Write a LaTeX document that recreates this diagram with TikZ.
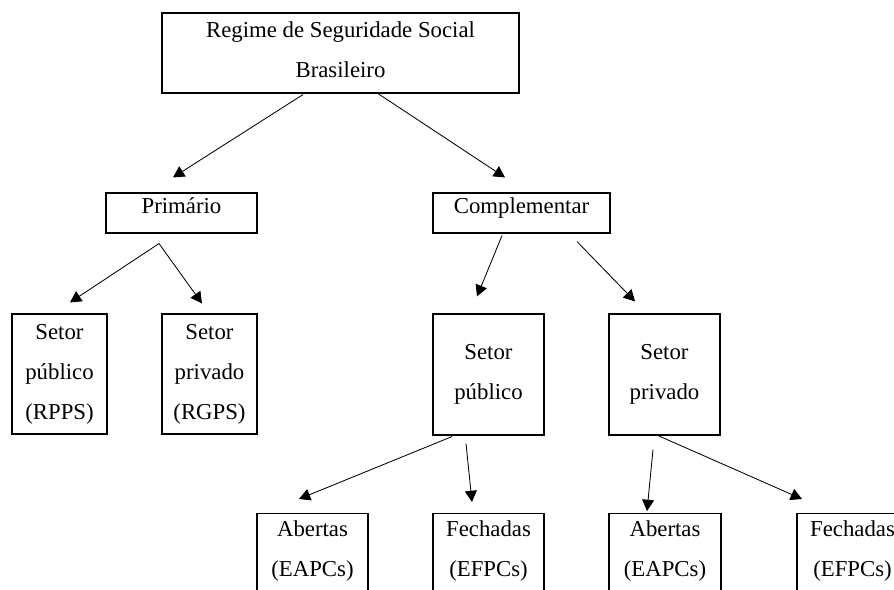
\documentclass[tikz,border=0pt]{standalone}
\usepackage{fontspec}
\setmainfont{Liberation Serif}
\usetikzlibrary{arrows.meta}

\begin{document}
\begin{tikzpicture}[x=0.025cm, y=-0.025cm]
	\tikzset{caixa/.style={draw=black, line width=0.8pt, inner sep=0pt, align=center, font=\fontsize{16.2}{28.45}\selectfont}, seta/.style={-{Triangle[length=8pt, width=8.5pt]}, line width=0.6pt}};

	\useasboundingbox (0,0) rectangle (894,590);
	\clip (0,0) rectangle (894,590);

	\node[caixa, minimum width=8.925cm, minimum height=2cm, text depth=4.5pt] (raiz) at (340.5,  53) {Regime de Seguridade Social\\Brasileiro};

	\node[caixa, minimum width=3.775cm, minimum height=1cm, text depth=10pt] (prim) at (181.5, 213) {Primário};
	\node[caixa, minimum width=4.425cm, minimum height=1cm, text depth=10pt] (comp) at (521.5, 213) {Complementar};

	\node[caixa, minimum width=2.375cm, minimum height=3cm] (pub1)  at ( 59.5, 374) {Setor\\público\\(RPPS)};
	\node[caixa, minimum width=2.375cm, minimum height=3cm] (priv1) at (209.5, 374) {Setor\\privado\\(RGPS)};
	\node[caixa, minimum width=2.775cm, minimum height=3.025cm] (pub2)  at (488.5, 374.5) {Setor\\público};
	\node[caixa, minimum width=2.775cm, minimum height=3.025cm] (priv2) at (664.5, 374.5) {Setor\\privado};

	\node[caixa, anchor=north, minimum width=2.775cm, inner ysep=5pt, text depth=3cm] (ab1) at (312.5, 513) {Abertas\\(EAPCs)};
	\node[caixa, anchor=north, minimum width=2.775cm, inner ysep=5pt, text depth=3cm] (fe1) at (488.5, 513) {Fechadas\\(EFPCs)};
	\node[caixa, anchor=north, minimum width=2.8cm,   inner ysep=5pt, text depth=3cm] (ab2) at (665,   513) {Abertas\\(EAPCs)};
	\node[caixa, anchor=north, minimum width=2.775cm, inner ysep=5pt, text depth=3cm] (fe2) at (852.5, 513) {Fechadas\\(EFPCs)};

	\draw[seta] ([shift={(-37.5, 1)}]raiz.south) -- ([shift={( -8.5,-15)}]prim.north);
	\draw[seta] ([shift={( 37.5, 0)}]raiz.south) -- ([shift={(-16.5,-15)}]comp.north);

	\draw[seta] ([shift={(-22.5,10)}]prim.south) -- ([shift={( 10.5,-11)}]pub1.north);
	\draw[seta] ([shift={(-22.5,10)}]prim.south) -- ([shift={( -7.5,-10)}]priv1.north);

	\draw[seta] ([shift={(-19.5, 2)}]comp.south) -- ([shift={(-11.5,-17)}]pub2.north);
	\draw[seta] ([shift={( 55.5, 8)}]comp.south) -- ([shift={(-29.5,-12)}]priv2.north);

	\draw[seta] ([shift={(-36.5, 1)}]pub2.south) -- ([shift={(-13.5,-14)}]ab1.north);
	\draw[seta] ([shift={(-22.5, 8)}]pub2.south) -- ([shift={(-16.5,-11)}]fe1.north);
	\draw[seta] ([shift={(-11.5,14)}]priv2.south) -- ([shift={(-18,  -2)}]ab2.north);
	\draw[seta] ([shift={( -6.5, 0)}]priv2.south) -- ([shift={(-50.5,-14)}]fe2.north);

\end{tikzpicture}
\end{document}
